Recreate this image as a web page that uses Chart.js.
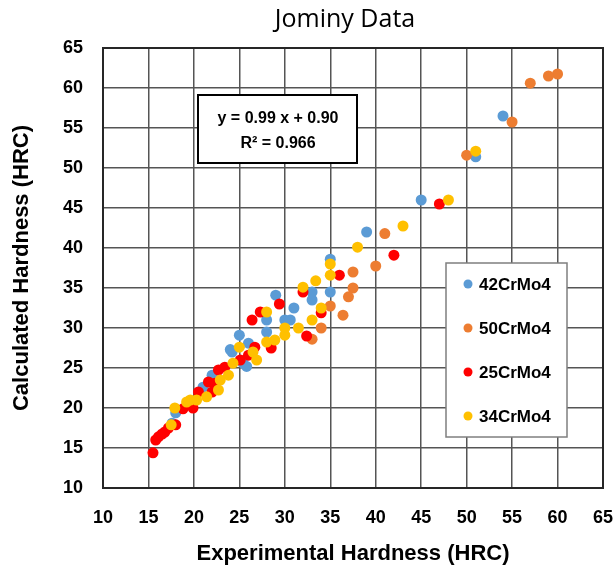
<!DOCTYPE html>
<html>
<head>
<meta charset="utf-8">
<title>Jominy Data</title>
<script src="https://cdn.jsdelivr.net/npm/chart.js@4.4.1/dist/chart.umd.min.js"></script>
<style>
  html, body { margin: 0; padding: 0; background: #ffffff; }
  #wrap { position: relative; width: 614px; height: 567px; }
</style>
</head>
<body>
<div id="wrap"><canvas id="chartCanvas" width="614" height="567"></canvas></div>
<script>
// Series names and colours (legend order)
const seriesNames = ['42CrMo4', '50CrMo4', '25CrMo4', '34CrMo4'];
const seriesColors = ['#5B9BD5', '#ED7D31', '#FF0000', '#FFC000'];

// Experimental vs calculated hardness (HRC)
const crMo42 = [
  [54, 56.5], [51, 51.4], [45, 46], [39, 42], [35, 38.6], [35, 34.5], [33, 34.5],
  [33, 33.5], [29, 34.1], [31, 32.5], [30, 31], [30.6, 31], [28, 31], [28, 29.5],
  [25, 29.1], [26, 28.1], [24.2, 27.0], [24, 27.3], [25.4, 25.6], [25.8, 25.2],
  [22, 24.1], [21, 22.6], [18, 19.4], [17.6, 18.1]
];
const crMo50 = [
  [60, 61.75], [59, 61.5], [57, 60.6], [55, 55.75], [50, 51.6], [41, 41.8],
  [40, 37.75], [37.5, 37], [37.5, 35], [37, 33.9], [35, 32.75], [36.4, 31.6],
  [34, 30], [33, 28.6]
];
const crMo25 = [
  [47, 45.5], [42, 39.1], [36, 36.6], [32, 34.5], [34, 31.9], [29.4, 33.0],
  [27.3, 32.0], [26.4, 31.0], [32.4, 29.0], [26.7, 27.6], [28.5, 27.5], [26, 26.6],
  [25.1, 26.0], [23.4, 25.1], [22.7, 24.75], [21.6, 23.25], [22.3, 23.1], [22, 22],
  [20.5, 22], [18.8, 19.9], [19.9, 20.0], [18.0, 17.9], [17.2, 17.5], [16.8, 17.0],
  [16.5, 16.75], [16.1, 16.4], [15.8, 16.0], [15.5, 14.4]
];
const crMo34 = [
  [51, 52.1], [48, 46], [43, 42.75], [38, 40.1], [35, 38], [35, 36.6], [33.4, 35.9],
  [32, 35.1], [34, 32.5], [33, 31], [31.5, 30], [30, 30], [30, 29.1], [28, 32],
  [28, 28.25], [28.9, 28.5], [25, 27.6], [26.5, 27.0], [26.9, 26.0], [24.3, 25.6],
  [23.8, 24.1], [22.9, 23.5], [22.7, 22.25], [21.4, 21.4], [20.3, 21], [19.6, 21],
  [19.2, 20.75], [17.9, 20.0], [17.5, 17.9]
];
const allSeries = [crMo42, crMo50, crMo25, crMo34];

// Axis ticks
const xTicks = [10, 15, 20, 25, 30, 35, 40, 45, 50, 55, 60, 65];
const yTicks = [10, 15, 20, 25, 30, 35, 40, 45, 50, 55, 60, 65];

// Trend line annotation text
const fitLines = ['y = 0.99 x + 0.90', 'R\u00B2 = 0.966'];
const chartTitle = 'Jominy Data';

const boldFont = '"Liberation Sans", Arial, sans-serif';

// Build the datasets (later series drawn on top, like Excel)
const datasets = allSeries.map((pts, i) => ({
  label: seriesNames[i],
  data: pts.map(p => ({ x: p[0], y: p[1] })),
  backgroundColor: seriesColors[i],
  borderColor: seriesColors[i],
  borderWidth: 0,
  pointRadius: 5.5,
  pointHoverRadius: 5.5,
  order: allSeries.length - i
}));

// Custom drawing: title, frame, fit box and legend box
const decorPlugin = {
  id: 'decor',
  afterDraw(chart) {
    const ctx = chart.ctx;
    const area = chart.chartArea;
    ctx.save();

    // plot frame
    ctx.strokeStyle = '#262626';
    ctx.lineWidth = 2;
    ctx.strokeRect(area.left, area.top, area.right - area.left, area.bottom - area.top);

    // title
    ctx.fillStyle = '#000000';
    ctx.font = '25px "Open Sans", sans-serif';
    ctx.textAlign = 'center';
    ctx.textBaseline = 'middle';
    ctx.fillText(chartTitle, 345, 20);

    // fit equation box
    ctx.fillStyle = '#ffffff';
    ctx.fillRect(198, 95, 159, 68);
    ctx.strokeStyle = '#000000';
    ctx.lineWidth = 2;
    ctx.strokeRect(198, 95, 159, 68);
    ctx.fillStyle = '#000000';
    ctx.font = 'bold 16px ' + boldFont;
    ctx.fillText(fitLines[0], 278, 119);
    ctx.fillText(fitLines[1], 278, 144);

    // legend box
    ctx.fillStyle = '#ffffff';
    ctx.fillRect(446, 263, 121, 174);
    ctx.strokeStyle = '#7f7f7f';
    ctx.lineWidth = 1.5;
    ctx.strokeRect(446, 263, 121, 174);
    ctx.font = 'bold 17px ' + boldFont;
    ctx.textAlign = 'left';
    chart.data.datasets.forEach((ds, i) => {
      const y = 284 + i * 44;
      ctx.fillStyle = ds.backgroundColor;
      ctx.beginPath();
      ctx.arc(468, y, 4.5, 0, Math.PI * 2);
      ctx.fill();
      ctx.fillStyle = '#000000';
      ctx.fillText(ds.label, 479, y + 1);
    });

    ctx.restore();
  }
};

const chartCanvas = document.getElementById('chartCanvas');
const chartContext = chartCanvas.getContext('2d');

const jominyChart = new Chart(chartContext, {
  type: 'scatter',
  data: { datasets: datasets },
  options: {
    responsive: false,
    animation: false,
    layout: { padding: { top: 48, right: 11, left: 0, bottom: 0 } },
    plugins: {
      legend: { display: false },
      tooltip: { enabled: false },
      title: { display: false }
    },
    scales: {
      x: {
        type: 'linear',
        position: 'bottom',
        min: 10,
        max: 65,
        afterBuildTicks: scale => { scale.ticks = xTicks.map(v => ({ value: v })); },
        afterFit: scale => {
          scale.height = 79;
          scale.paddingLeft = 0;
          scale.paddingRight = 0;
        },
        ticks: {
          color: '#000000',
          padding: 19,
          font: { family: boldFont, size: 18, weight: 'bold' }
        },
        grid: { color: '#555555', lineWidth: 1.5, drawTicks: false },
        border: { color: '#262626', width: 2 },
        title: {
          display: true,
          text: 'Experimental Hardness (HRC)',
          color: '#000000',
          padding: { top: 4, bottom: 0 },
          font: { family: boldFont, size: 22, weight: 'bold' }
        }
      },
      y: {
        type: 'linear',
        min: 10,
        max: 65,
        afterBuildTicks: scale => { scale.ticks = yTicks.map(v => ({ value: v })); },
        afterFit: scale => {
          scale.width = 103;
          scale.paddingTop = 0;
          scale.paddingBottom = 0;
        },
        ticks: {
          color: '#000000',
          padding: 20,
          font: { family: boldFont, size: 18, weight: 'bold' }
        },
        grid: { color: '#555555', lineWidth: 1.5, drawTicks: false },
        border: { color: '#262626', width: 2 },
        title: {
          display: true,
          text: 'Calculated Hardness (HRC)',
          color: '#000000',
          padding: { top: 9, bottom: 0 },
          font: { family: boldFont, size: 22, weight: 'bold' }
        }
      }
    }
  },
  plugins: [decorPlugin]
});
</script>
</body>
</html>
